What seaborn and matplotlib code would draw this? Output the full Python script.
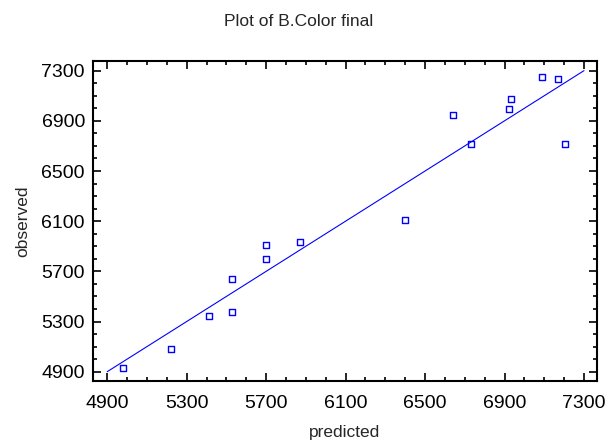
import matplotlib
matplotlib.use("Agg")
import matplotlib.pyplot as plt
import seaborn as sns
import pandas as pd

predicted = [4978, 5222, 5412, 5528, 5528, 5700, 5700, 5872,
             6400, 6640, 6730, 6924, 6934, 7088, 7168, 7206]
observed = [4932, 5081, 5344, 5378, 5641, 5801, 5908, 5932,
            6112, 6944, 6715, 6994, 7077, 7249, 7234, 6713]
fit_x = [4900, 7300]
fit_y = [4900, 7300]
major_ticks = [4900, 5300, 5700, 6100, 6500, 6900, 7300]
minor_ticks = list(range(4900, 7400, 100))

sns.set_style("ticks")
plt.rcParams['font.family'] = ['Liberation Sans', 'DejaVu Sans']

df = pd.DataFrame({'predicted': predicted, 'observed': observed})
fit = pd.DataFrame({'x': fit_x, 'y': fit_y})

fig = plt.figure(figsize=(6.08, 4.43), dpi=100)
ax = fig.add_axes([0.1535, 0.1406, 0.8279, 0.7217])

sns.lineplot(data=fit, x='x', y='y', ax=ax, color='#0000ff', linewidth=0.8)
sns.scatterplot(data=df, x='predicted', y='observed', ax=ax, marker='s',
                s=18, facecolor='none', edgecolor='#0000ff', linewidth=1.0)

ax.set_xlim(4830, 7364)
ax.set_ylim(4828, 7377)
ax.set_xticks(major_ticks)
ax.set_yticks(major_ticks)
ax.set_xticks(minor_ticks, minor=True)
ax.set_yticks(minor_ticks, minor=True)
ax.tick_params(which='both', direction='in', top=True, right=True,
               labelsize=14, width=1.2, colors='black')
ax.tick_params(which='major', length=6)
ax.tick_params(axis='x', which='major', pad=10)
ax.tick_params(axis='y', which='major', pad=6)
ax.tick_params(which='minor', length=3)
for sp in ax.spines.values():
    sp.set_linewidth(1.5)
    sp.set_color('black')

ax.set_xlabel('predicted', fontsize=12.5, labelpad=10)
ax.set_ylabel('observed', fontsize=12.5, labelpad=8)
# title sits over the figure centre, not the axes centre
ax.set_title('Plot of B.Color final', fontsize=12.5, pad=25, x=0.407)

fig.savefig('out.png', dpi=100)
